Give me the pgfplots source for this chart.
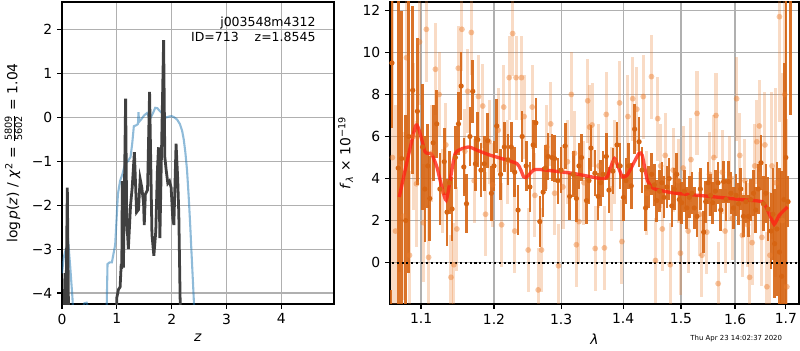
\documentclass[border=0pt]{standalone}
\usepackage{fontspec}
\setmainfont{DejaVu Sans}
\usepackage{pgfplots}
\usepackage{pgfplotstable}
\pgfplotsset{compat=1.18}
\definecolor{gridgray}{RGB}{176,176,176}
\definecolor{pzblue}{RGB}{31,119,180}
\definecolor{chidark}{RGB}{64,64,64}
\definecolor{dor}{RGB}{214,100,18}
\definecolor{lor}{RGB}{235,125,45}
\definecolor{modred}{RGB}{255,35,20}

\pgfplotstableread{
l f e
1.0615 -3.0 1.7
1.0625 9.5 3.1
1.0705 4.5 8.5
1.0748 4.95 7.0
1.0800 2.0 5.0
1.0840 6.0 6.5
1.0891 8.2 4.0
1.0952 7.2 3.5
1.1020 5.5 3.0
1.1050 3.5 2.5
1.1088 4.6 2.0
1.1115 3.05 2.0
1.1161 5.7 1.8
1.1207 6.6 1.6
1.1250 3.5 1.7
1.1309 4.8 1.6
1.1346 2.4 1.6
1.1380 3.8 1.5
1.1415 2.55 1.5
1.1460 5.0 1.5
1.1502 6.6 1.5
1.1539 8.4 1.6
1.1576 4.55 1.4
1.1613 2.8 1.4
1.1660 6.0 1.4
1.1700 8.15 1.5
1.1737 4.7 1.3
1.1770 5.85 1.3
1.1815 4.4 1.3
1.1862 4.7 1.3
1.1910 5.8 1.3
1.1963 3.3 1.3
1.2000 4.6 1.2
1.2040 6.5 1.3
1.2095 4.2 1.2
1.2150 5.5 1.2
1.2200 4.9 1.2
1.2250 5.5 1.2
1.2300 4.3 1.2
1.2350 2.5 1.2
1.2410 6.0 1.2
1.2470 4.6 1.2
1.2525 3.6 1.2
1.2575 5.6 1.2
1.2615 6.65 1.2
1.2675 1.95 1.2
1.2725 3.35 1.2
1.2760 4.5 1.1
1.2800 5.05 1.1
1.2860 5.0 1.1
1.2900 4.95 1.1
1.2950 3.9 1.1
1.3000 4.4 1.1
1.3064 5.55 1.1
1.3134 3.15 1.1
1.3190 4.2 1.1
1.3241 3.05 1.1
1.3280 4.6 1.1
1.3321 5.0 1.1
1.3401 2.95 1.1
1.3440 3.9 1.1
1.3471 5.45 1.1
1.3535 4.25 1.1
1.3588 3.15 1.1
1.3630 3.8 1.1
1.3669 4.2 1.1
1.3722 5.05 1.1
1.3765 3.45 1.1
1.3829 4.35 1.1
1.3899 5.6 1.1
1.3950 4.6 1.1
1.4006 3.1 1.1
1.4047 3.9 1.1
1.4090 4.6 1.1
1.4135 3.65 1.1
1.4193 6.35 1.2
1.4269 5.75 1.2
1.4320 4.4 1.1
1.4380 2.6 1.1
1.4430 3.6 1.0
1.4486 4.2 1.0
1.4530 3.7 1.0
1.4573 2.95 1.0
1.4620 3.4 1.0
1.4661 3.8 1.0
1.4700 3.1 1.0
1.4749 3.6 1.0
1.4790 4.0 1.0
1.4837 2.7 1.0
1.4880 3.5 1.0
1.4924 4.2 1.0
1.4970 3.0 1.0
1.5012 2.85 1.0
1.5060 3.4 1.0
1.5105 2.6 1.0
1.5150 3.1 1.0
1.5197 3.3 1.0
1.5240 2.6 1.0
1.5290 2.2 1.0
1.5350 3.5 1.0
1.5413 1.45 1.0
1.5450 2.9 1.0
1.5494 3.8 1.0
1.5540 3.2 1.0
1.5580 2.85 1.0
1.5630 3.4 1.0
1.5679 3.8 1.0
1.5730 2.5 1.0
1.5784 3.85 1.0
1.5830 3.0 1.0
1.5876 3.85 1.0
1.5920 3.3 1.0
1.5969 2.6 1.0
1.6020 3.2 1.0
1.6065 2.8 1.0
1.6110 3.5 1.0
1.6161 2.2 1.0
1.6210 2.9 1.0
1.6258 2.2 1.0
1.6300 3.0 1.0
1.6355 3.3 1.1
1.6400 2.5 1.1
1.6450 3.5 1.2
1.6503 4.75 1.3
1.6550 2.8 1.3
1.6600 3.3 1.4
1.6645 2.55 1.5
1.6700 1.5 1.8
1.6740 2.3 2.2
1.6774 0.9 2.6
1.6820 1.6 3.2
1.6870 0.5 4.0
1.6916 -0.65 5.0
1.6960 3.0 6.5
1.7000 5.0 10.0
1.7045 2.9 1.2
1.7100 12.5 5.5
}\darkdata

\pgfplotstableread{
l f e
1.0630 5.0 8.0
1.0670 1.5 6.0
1.0720 4.55 5.0
1.0770 2.2 4.0
1.0810 9.75 4.5
1.0850 0.35 4.0
1.0900 6.0 3.5
1.0940 3.75 3.0
1.0980 10.5 3.0
1.1030 1.9 2.8
1.1070 11.1 2.5
1.1100 0.25 2.5
1.1140 5.2 2.3
1.1190 9.2 2.2
1.1240 8.0 2.0
1.1280 3.4 2.0
1.1330 5.6 2.0
1.1400 -0.7 2.0
1.1440 -0.1 2.0
1.1480 1.6 2.0
1.1500 9.25 2.0
1.1550 11.1 2.0
1.1590 5.3 2.0
1.1630 8.15 2.0
1.1680 10.95 2.0
1.1720 3.9 2.0
1.1780 7.9 2.0
1.1840 7.45 2.0
1.1880 2.3 2.0
1.1930 5.75 2.0
1.1980 3.7 2.0
1.2060 6.3 2.0
1.2110 1.8 2.0
1.2140 7.4 2.0
1.2190 4.8 2.0
1.2220 8.8 2.0
1.2270 10.9 2.0
1.2300 1.5 2.0
1.2320 8.8 2.0
1.2400 8.8 2.0
1.2440 6.95 2.0
1.2500 0.6 2.0
1.2560 7.4 2.0
1.2600 3.2 2.0
1.2650 -1.3 2.0
1.2700 0.6 2.0
1.2780 5.5 2.0
1.2840 6.6 2.0
1.2900 3.3 2.0
1.2960 -0.15 2.0
1.3030 3.6 2.0
1.3100 4.8 2.0
1.3160 8.0 2.0
1.3210 5.2 2.0
1.3240 0.85 2.0
1.3280 1.95 2.0
1.3360 3.8 2.0
1.3420 7.7 2.0
1.3450 6.45 2.0
1.3490 6.55 2.0
1.3540 0.67 2.0
1.3600 4.6 2.0
1.3690 0.7 2.0
1.3720 7.05 2.0
1.3800 3.5 2.0
1.3860 4.8 2.0
1.3940 7.6 2.0
1.3980 1.0 2.0
1.4080 6.95 2.0
1.4160 7.8 2.0
1.4230 7.3 2.0
1.4340 7.9 2.0
1.4400 3.3 2.0
1.4480 8.85 2.0
1.4550 0.1 2.0
1.4590 6.85 2.0
1.4640 4.6 2.0
1.4670 1.6 2.0
1.4720 5.1 2.0
1.4810 -0.1 2.0
1.4860 4.4 2.0
1.4950 3.9 2.0
1.4990 0.45 2.0
1.5040 4.5 2.0
1.5130 1.5 2.0
1.5180 4.9 2.0
1.5290 7.1 2.0
1.5340 2.3 2.0
1.5380 0.35 2.0
1.5470 1.45 2.0
1.5520 4.2 2.0
1.5600 5.0 2.0
1.5640 7.0 2.0
1.5680 -1.0 2.0
1.5760 4.3 2.0
1.5810 1.5 2.0
1.5900 4.0 2.0
1.5950 2.1 2.0
1.6030 7.8 2.0
1.6090 5.1 2.0
1.6140 1.3 2.0
1.6190 3.9 2.0
1.6240 1.8 2.0
1.6280 -0.7 2.0
1.6330 0.95 2.0
1.6380 4.6 2.0
1.6420 5.75 2.0
1.6470 6.5 2.2
1.6520 1.2 2.3
1.6580 5.6 2.5
1.6620 -1.15 2.6
1.6680 0.35 3.0
1.6720 4.6 3.5
1.6800 3.8 4.5
1.6870 11.7 5.0
1.6930 2.0 7.0
1.6980 8.0 9.0
1.7020 -1.15 8.0
}\lightdata

\pgfplotsset{
  mystyle/.style={
    scale only axis,
    axis line style={line width=0.8pt},
    tick align=outside, tick pos=left,
    major tick length=3.5pt,
    tick style={line width=0.8pt, black},
    grid=major,
    major grid style={line width=0.8pt, color=gridgray},
    ticklabel style={font=\fontsize{10}{12}\selectfont},
    label style={font=\fontsize{10}{12}\selectfont},
    /pgf/number format/assume math mode=true,
  }
}

\begin{document}
\begin{tikzpicture}
\useasboundingbox (0,0) rectangle (576pt,252pt);

\begin{axis}[mystyle,
  at={(44.64pt,33.12pt)}, anchor=south west,
  width=195.84pt, height=217.44pt,
  xmin=0, xmax=4.96, ymin=-4.25, ymax=2.63,
  xtick={0,1,2,3,4}, xticklabels={0,1,2,3,4},
  ytick={-4,-3,-2,-1,0,1,2}, yticklabels={−4,−3,−2,−1,0,1,2},
  xlabel={\textit{z}},
  ylabel={log\,\textit{p}(\textit{z}) / \textit{χ}\textsuperscript{2} = $\frac{\hbox{\fontsize{7}{7}\selectfont 5809}}{\hbox{\fontsize{7}{7}\selectfont 5602}}$ = 1.04},
]
\addplot[pzblue, opacity=0.5, line width=1.5pt] coordinates {
(0,-3.55) (0.03,-3.2) (0.07,-3.0) (0.115,-2.85) (0.15,-3.4) (0.19,-4.1) (0.21,-4.6)
};
\addplot[pzblue, opacity=0.5, line width=1.5pt] coordinates {
(0.36,-4.4) (0.41,-4.23) (0.45,-4.22) (0.49,-4.4)
};
\addplot[pzblue, opacity=0.5, line width=1.5pt] coordinates {
(0.81,-4.6) (0.817,-4.2) (0.83,-3.34) (0.87,-3.3) (0.91,-3.3) (0.94,-3.1) (0.97,-2.9)
(1.0,-2.2) (1.02,-1.74) (1.06,-1.44) (1.1,-1.3) (1.15,-1.05) (1.2,-1.0) (1.25,-0.9)
(1.28,-0.6) (1.31,-0.2) (1.35,-0.18) (1.385,-0.15) (1.395,0.12) (1.405,-0.1) (1.44,-0.05)
(1.5,0.05) (1.55,0.1) (1.58,0.02) (1.62,0.0) (1.66,0.1) (1.70,0.22) (1.74,0.21) (1.78,0.15)
(1.82,0.1) (1.86,0.05) (1.9,0.0) (1.95,0.02) (2.0,0.03) (2.05,0.0) (2.1,-0.05) (2.15,-0.15)
(2.19,-0.3) (2.22,-0.5) (2.25,-0.8) (2.28,-1.2) (2.31,-1.8) (2.34,-2.5) (2.36,-3.04)
(2.39,-3.8) (2.42,-4.6)
};
\addplot[chidark, line width=2pt] coordinates {
(0.035,-4.6) (0.055,-3.55) (0.07,-4.6) (0.097,-1.6) (0.12,-4.6)
};
\addplot[chidark, line width=2pt] coordinates {
(0.99,-4.6) (1.0,-4.1) (1.03,-3.92) (1.06,-3.86) (1.08,-3.34) (1.09,-3.45) (1.10,-1.45)
(1.12,-3.42) (1.14,-1.5) (1.16,0.43) (1.18,-2.3) (1.21,-3.0) (1.25,-2.0) (1.28,-1.6)
(1.32,-0.79) (1.36,-2.16) (1.395,-2.1) (1.425,-1.4) (1.456,-1.6) (1.487,-1.95) (1.50,-2.45)
(1.52,-1.75) (1.56,-1.65) (1.597,0.58) (1.64,-2.66) (1.675,-3.15) (1.71,-2.6) (1.74,-1.2)
(1.76,-0.68) (1.785,-2.75) (1.853,1.76) (1.875,-0.9) (1.90,-1.2) (1.93,-1.5) (1.96,-1.45)
(1.99,-1.6) (2.02,-2.3) (2.04,-2.45) (2.08,-0.6) (2.11,-1.4) (2.13,-2.2) (2.16,-4.6)
};
\node[anchor=north east, align=right, font=\fontsize{9}{10.5}\selectfont]
  at (rel axis cs:0.95,0.965) {j003548m4312\\ID=713\hspace{11.5pt}z=1.8545};
\end{axis}

\begin{axis}[mystyle,
  at={(280.8pt,33.12pt)}, anchor=south west,
  width=294.5pt, height=217.44pt,
  xmode=log, xmin=1.060, xmax=1.727, ymin=-1.97, ymax=12.4,
  xtick={1.1,1.2,1.3,1.4,1.5,1.6,1.7},
  xticklabels={1.1,1.2,1.3,1.4,1.5,1.6,1.7},
  ytick={0,2,4,6,8,10,12}, yticklabels={0,2,4,6,8,10,12},
  xlabel={\textit{λ}},
  ylabel={\textit{f}\textsubscript{\textit{λ}} × 10\textsuperscript{−19}},
]
\addplot[only marks, mark=*, mark size=2.1pt, color=lor,
  mark options={draw opacity=0, fill=lor, fill opacity=0.45},
  error bars/.cd, y dir=both, y explicit, error mark=none,
  error bar style={line width=2.2pt, color=lor, opacity=0.28}]
  table[x=l, y=f, y error=e] {\lightdata};
\addplot[only marks, mark=*, mark size=1.9pt, color=dor,
  mark options={draw opacity=0, fill=dor},
  error bars/.cd, y dir=both, y explicit, error mark=none,
  error bar style={line width=1.9pt, color=dor, opacity=0.9}]
  table[x=l, y=f, y error=e] {\darkdata};
\addplot[modred, opacity=0.8, line width=2.4pt, smooth, tension=0.3] coordinates {
(1.0718,3.12) (1.0934,6.54) (1.1053,5.27) (1.114,5.16) (1.121,4.55) (1.1334,2.97)
(1.1457,5.19) (1.164,5.5) (1.1758,5.35) (1.1946,5.11) (1.2334,4.71) (1.2432,4.08)
(1.248,4.08) (1.258,4.4) (1.268,4.43) (1.3198,4.24) (1.3626,4.0) (1.3735,4.08)
(1.3856,4.95) (1.3984,4.08) (1.4068,4.16) (1.4265,5.19) (1.4323,5.1) (1.441,3.92)
(1.4524,3.52) (1.4875,3.31) (1.548,3.16) (1.611,3.0) (1.6533,2.89) (1.6664,2.33)
(1.6765,1.82) (1.6866,2.25) (1.7034,2.65)
};
\addplot[black, line width=1.5pt, dash pattern=on 1.5pt off 2pt] coordinates {(1.05,0) (1.75,0)};
\end{axis}

\node[anchor=east, font=\fontsize{5}{6}\selectfont] at (566.6pt,7.9pt) {Thu Apr 23 14:02:37 2020};
\end{tikzpicture}
\end{document}
